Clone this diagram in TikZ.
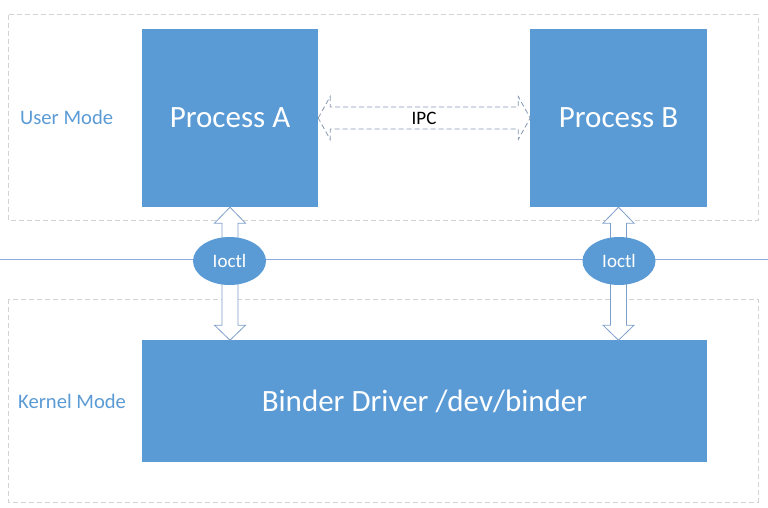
\documentclass[tikz,border=0pt]{standalone}
\usepackage{fontspec}
\setmainfont{Carlito}
\usetikzlibrary{shapes.geometric,calc}
\definecolor{officeblue}{HTML}{5B9BD5}
\definecolor{modegray}{HTML}{D3D3D3}
\definecolor{splitblue}{HTML}{8EA9DB}
\definecolor{arrowblue}{HTML}{7F9FCB}
\definecolor{ipcgray}{HTML}{8497B0}

\begin{document}
\begin{tikzpicture}[x=1pt,y=-1pt,
    procbox/.style={rectangle, fill=\BOXCOLOR, text=white, inner sep=0pt,
        font=\fontsize{31}{37}\selectfont},
    modetext/.style={anchor=west, inner sep=0pt, text=\BOXCOLOR,
        font=\fontsize{20.6}{24}\selectfont},
    modebox/.style={draw=modegray, line width=1pt, dash pattern=on 5pt off 3pt},
    ioctlnode/.style={ellipse, fill=\BOXCOLOR, text=white, inner sep=0pt,
        minimum width=73pt, minimum height=48pt, font=\fontsize{19}{23}\selectfont},
    blockarrow/.style={draw=arrowblue, fill=white, line width=0.8pt, line join=miter}]

\def\BOXCOLOR{officeblue}
    \useasboundingbox (0,0) rectangle (768,508);
    % user and kernel areas
    \draw[modebox] (8,15) rectangle (758,220);
    \draw[modebox] (8,299) rectangle (758,502);
    \node[modetext] (um) at (20,117) {User Mode};
    \node[modetext] (km) at (18,401) {Kernel Mode};
    \coordinate (sl) at (0,259);
    \coordinate (sr) at (768,259);
    \draw[splitblue, line width=0.8pt] (sl) -- (sr);

    \node[procbox, minimum width=176pt, minimum height=178pt] (pa) at (230,118) {Process A};
    \node[procbox, minimum width=177pt, minimum height=178pt] (pb) at (618.5,118) {Process B};
    \node[procbox, minimum width=565pt, minimum height=122pt] (drv) at (424.5,401) {Binder Driver /dev/binder};

    % ioctl arrows
    \draw[blockarrow] (pa.south) -- ++(15.5,16) -- ++(-7.5,0) -- ++(0,102) -- ++(7.5,0)
        -- ++(-15.5,15) -- ++(-15.5,-15) -- ++(7.5,0) -- ++(0,-102) -- ++(-7.5,0) -- cycle;
    \draw[blockarrow] (pb.south) -- ++(15.5,16) -- ++(-7.5,0) -- ++(0,102) -- ++(7.5,0)
        -- ++(-15.5,15) -- ++(-15.5,-15) -- ++(7.5,0) -- ++(0,-102) -- ++(-7.5,0) -- cycle;
    \node[ioctlnode] (ioa) at (229.5,261) {Ioctl};
    \node[ioctlnode] (iob) at (619,261) {Ioctl};

    % IPC
    \draw[draw=ipcgray, fill=white, line width=0.8pt, dash pattern=on 5pt off 3pt]
        (pa.east) -- ++(12,-21.5) -- ++(0,10.5) -- ++(188,0) -- ++(0,-10.5) -- ++(12,21.5)
        -- ++(-12,21.5) -- ++(0,-10.5) -- ++(-188,0) -- ++(0,10.5) -- cycle;
    \node[font=\fontsize{19}{23}\selectfont, inner sep=0pt] (ipc) at ($(pa.east)!0.5!(pb.west)$) {IPC};

\end{tikzpicture}
\end{document}
